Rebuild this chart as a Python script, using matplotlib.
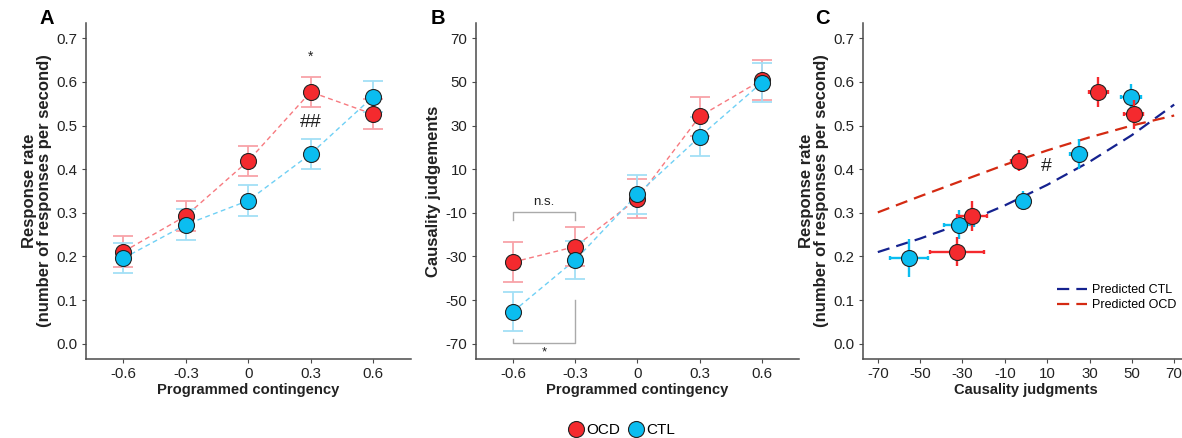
import matplotlib
matplotlib.use("Agg")
import matplotlib.pyplot as plt
from matplotlib.lines import Line2D

plt.rcParams['font.family'] = ['Liberation Sans', 'DejaVu Sans']
plt.rcParams['axes.unicode_minus'] = False

# ---- data ----
contingency = [-0.6, -0.3, 0.0, 0.3, 0.6]
contingency_labels = ['-0.6', '-0.3', '0', '0.3', '0.6']

rate_ocd = [0.211, 0.293, 0.419, 0.577, 0.526]
rate_ocd_se = [0.035, 0.035, 0.035, 0.035, 0.035]
rate_ctl = [0.196, 0.273, 0.328, 0.435, 0.566]
rate_ctl_se = [0.035, 0.036, 0.036, 0.035, 0.035]

judg_ocd = [-32.6, -25.5, -3.5, 34.2, 50.9]
judg_ocd_se = [9.0, 8.9, 9.0, 9.0, 9.0]
judg_ctl = [-55.3, -31.6, -1.5, 24.9, 49.7]
judg_ctl_se = [8.9, 8.9, 8.9, 9.0, 8.9]

# panel C error bars (as drawn in C)
c_xerr_ocd = [12.9, 7.1, 3.8, 4.5, 4.5]
c_yerr_ocd = [0.034, 0.034, 0.024, 0.034, 0.033]
c_xerr_ctl = [8.9, 7.2, 2.8, 4.1, 4.7]
c_yerr_ctl = [0.044, 0.033, 0.022, 0.035, 0.030]

# predicted curves
pred_x = [-70, -50, -30, -10, 10, 30, 50, 70]
pred_ctl = [0.210, 0.241, 0.276, 0.317, 0.364, 0.417, 0.478, 0.548]
pred_ocd = [0.301, 0.338, 0.374, 0.410, 0.443, 0.473, 0.500, 0.523]

# ---- style ----
RED = '#F42A2E'
CYAN = '#0BBDF0'
RED_LIGHT = '#F8A3A8'
CYAN_LIGHT = '#A3DFF6'
RED_LINE = '#F77A80'
CYAN_LINE = '#6FD0F5'
NAVY = '#15228F'
DARKRED = '#D42A12'
AXCOL = '#4A4A4A'
TXT = '#222222'

W, H = 1182, 438
fig = plt.figure(figsize=(W / 100, H / 100), dpi=100)

bottom = (H - 359) / H
height = 336 / H
axA = fig.add_axes([86 / W, bottom, 324.5 / W, height])
axB = fig.add_axes([475.6 / W, bottom, 323.7 / W, height])
axC = fig.add_axes([863 / W, bottom, 326 / W, height])


def style_axes(ax):
    for s in ['top', 'right']:
        ax.spines[s].set_visible(False)
    for s in ['left', 'bottom']:
        ax.spines[s].set_color(AXCOL)
        ax.spines[s].set_linewidth(1.1)
    ax.tick_params(direction='out', length=3, width=0.8, color=AXCOL,
                   labelsize=10.8, labelcolor=TXT, pad=3)


def group_plot(ax, y_ocd, e_ocd, y_ctl, e_ctl):
    ax.plot(contingency, y_ocd, ls=(0, (3.5, 2.5)), lw=1.0, color=RED_LINE, zorder=2)
    ax.plot(contingency, y_ctl, ls=(0, (3.5, 2.5)), lw=1.0, color=CYAN_LINE, zorder=2)
    ax.errorbar(contingency, y_ocd, yerr=e_ocd, fmt='none', ecolor=RED_LIGHT,
                elinewidth=1.3, capsize=7, capthick=1.3, zorder=3)
    ax.errorbar(contingency, y_ctl, yerr=e_ctl, fmt='none', ecolor=CYAN_LIGHT,
                elinewidth=1.3, capsize=7, capthick=1.3, zorder=3)
    ax.plot(contingency, y_ocd, 'o', ms=11.5, mfc=RED, mec='#222222', mew=0.8, zorder=4)
    ax.plot(contingency, y_ctl, 'o', ms=11.5, mfc=CYAN, mec='#222222', mew=0.8, zorder=5)
    ax.set_xlim(-0.78, 0.78)
    ax.set_xticks(contingency)
    ax.set_xticklabels(contingency_labels)
    ax.set_xlabel('Programmed contingency', fontsize=10.6, fontweight='bold',
                  color=TXT, labelpad=1)


# ---- panel A ----
style_axes(axA)
group_plot(axA, rate_ocd, rate_ocd_se, rate_ctl, rate_ctl_se)
axA.set_ylim(-0.035, 0.735)
axA.set_yticks([0.0, 0.1, 0.2, 0.3, 0.4, 0.5, 0.6, 0.7])
axA.set_yticklabels(['0.0', '0.1', '0.2', '0.3', '0.4', '0.5', '0.6', '0.7'])
axA.set_ylabel('Response rate\n(number of responses per second)', fontsize=12,
               fontweight='bold', color=TXT, labelpad=3, linespacing=1.0)
axA.text(0.3, 0.657, '*', ha='center', va='center', fontsize=10, color=TXT)
axA.text(0.3, 0.508, '##', ha='center', va='center', fontsize=14, color=TXT)

# ---- panel B ----
style_axes(axB)
group_plot(axB, judg_ocd, judg_ocd_se, judg_ctl, judg_ctl_se)
axB.set_ylim(-77, 77)
axB.set_yticks([-70, -50, -30, -10, 10, 30, 50, 70])
axB.set_ylabel('Causality judgements', fontsize=12, fontweight='bold',
               color=TXT, labelpad=3)
BR = '#AAAAAA'
axB.plot([-0.6, -0.6, -0.3, -0.3], [-13.3, -9.8, -9.8, -13.3], color=BR, lw=1, zorder=1)
axB.text(-0.45, -5.0, 'n.s.', ha='center', va='center', fontsize=9.5, color=TXT)
axB.plot([-0.6, -0.6, -0.3, -0.3], [-68.0, -69.8, -69.8, -50.0], color=BR, lw=1, zorder=1)
axB.text(-0.45, -74.0, '*', ha='center', va='center', fontsize=9.5, color=TXT)

# ---- panel C ----
style_axes(axC)
axC.plot(pred_x, pred_ctl, ls=(0, (5.5, 3.2)), lw=1.6, color=NAVY, zorder=2,
         label='Predicted CTL')
axC.plot(pred_x, pred_ocd, ls=(0, (5.5, 3.2)), lw=1.6, color=DARKRED, zorder=2,
         label='Predicted OCD')
axC.errorbar(judg_ctl, rate_ctl, xerr=c_xerr_ctl, fmt='none',
             ecolor=CYAN, elinewidth=1.7, capsize=1.6, capthick=1.7, zorder=3)
axC.errorbar(judg_ctl, rate_ctl, yerr=c_yerr_ctl, fmt='none',
             ecolor=CYAN, elinewidth=1.7, capsize=0, zorder=3)
axC.plot(judg_ctl, rate_ctl, 'o', ms=11.5, mfc=CYAN, mec='#222222', mew=0.8, zorder=4)
axC.errorbar(judg_ocd, rate_ocd, xerr=c_xerr_ocd, fmt='none',
             ecolor=RED, elinewidth=1.7, capsize=1.6, capthick=1.7, zorder=5)
axC.errorbar(judg_ocd, rate_ocd, yerr=c_yerr_ocd, fmt='none',
             ecolor=RED, elinewidth=1.7, capsize=0, zorder=5)
axC.plot(judg_ocd, rate_ocd, 'o', ms=11.5, mfc=RED, mec='#222222', mew=0.8, zorder=6)
axC.set_xlim(-77, 77)
axC.set_xticks([-70, -50, -30, -10, 10, 30, 50, 70])
axC.set_ylim(-0.035, 0.735)
axC.set_yticks([0.0, 0.1, 0.2, 0.3, 0.4, 0.5, 0.6, 0.7])
axC.set_yticklabels(['0.0', '0.1', '0.2', '0.3', '0.4', '0.5', '0.6', '0.7'])
axC.set_xlabel('Causality judgments', fontsize=10.6, fontweight='bold',
               color=TXT, labelpad=1)
axC.set_ylabel('Response rate\n(number of responses per second)', fontsize=12,
               fontweight='bold', color=TXT, labelpad=3, linespacing=1.0)
axC.text(9.5, 0.406, '#', ha='center', va='center', fontsize=14, color=TXT)
axC.legend(loc='lower right', bbox_to_anchor=(0.985, 0.12), frameon=False,
           fontsize=9, handlelength=2.4, handletextpad=0.4, labelspacing=0.25,
           borderaxespad=0.2)

# panel letters
for x, s in [(47, 'A'), (438, 'B'), (822, 'C')]:
    fig.text(x / W, 1 - 19 / H, s, ha='center', va='center', fontsize=14.5,
             fontweight='bold', color='black')

# bottom legend
handles = [
    Line2D([], [], ls='none', marker='o', ms=11.5, mfc=RED, mec='#222222', mew=0.8),
    Line2D([], [], ls='none', marker='o', ms=11.5, mfc=CYAN, mec='#222222', mew=0.8),
]
fig.legend(handles, ['OCD', 'CTL'], loc='center', bbox_to_anchor=(621 / W, 7.5 / H),
           ncol=2, frameon=False, fontsize=11, handletextpad=0.1,
           columnspacing=0.4, handlelength=1.2, borderpad=0)

fig.savefig('out.png', dpi=100)
